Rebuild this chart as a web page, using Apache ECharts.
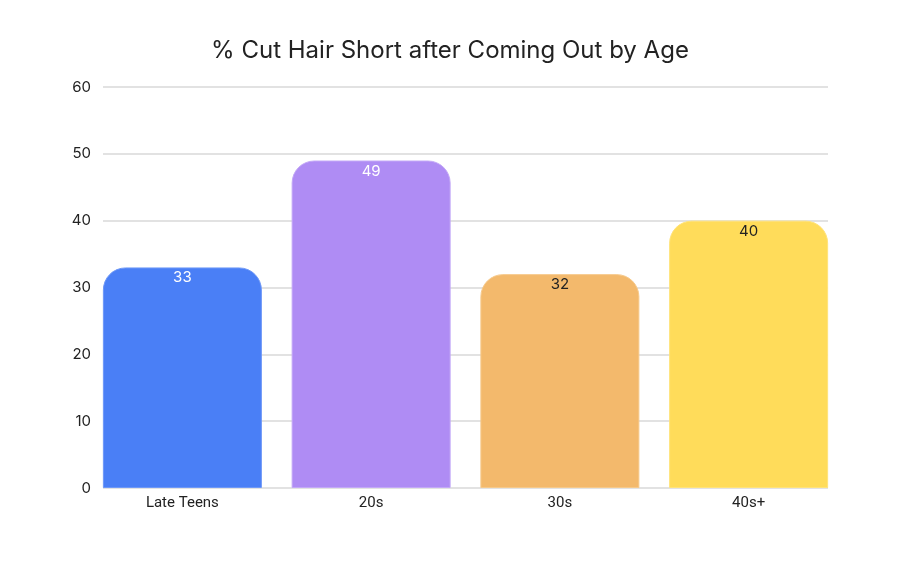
<!DOCTYPE html>
<html>
<head>
<meta charset="utf-8">
<script src="https://cdn.jsdelivr.net/npm/echarts@6/dist/echarts.min.js"></script>
<style>html,body{margin:0;padding:0;background:#fff;}#c{width:900px;height:562px;}</style>
</head>
<body>
<div id="c"></div>
<script>
const categories = ['Late Teens', '20s', '30s', '40s+'];
const values = [33, 49, 32, 40];
const yTicks = [0, 10, 20, 30, 40, 50, 60];

const barColors = ['#4A7FF6', '#AF8CF4', '#F3B96C', '#FFDC5A'];
const borderColors = ['#6E98F7', '#C3A8F7', '#F6C98A', '#FFE37A'];
const labelColors = ['#FFFFFF', '#FFFFFF', '#222222', '#222222'];

const chart = echarts.init(document.getElementById('c'));
const font = 'Inter, "Noto Sans", sans-serif';
chart.setOption({
  animation: false,
  backgroundColor: '#ffffff',
  title: {
    text: '% Cut Hair Short after Coming Out by Age',
    left: 'center',
    top: 34,
    textStyle: { fontFamily: font, fontSize: 24, fontWeight: 'normal', color: '#222222' }
  },
  grid: [
    { left: 103, right: 72, top: 87, bottom: 74 },
    { left: 88, right: 57, top: 87, bottom: 74 }
  ],
  xAxis: [
    { gridIndex: 0, type: 'category', data: categories, show: false },
    {
      gridIndex: 1, type: 'category', data: categories,
      axisLine: { show: false }, axisTick: { show: false },
      axisLabel: { margin: 8, fontFamily: 'Roboto, sans-serif', fontSize: 15, color: '#222222' }
    }
  ],
  yAxis: [
    {
      gridIndex: 0, type: 'value', min: yTicks[0], max: yTicks[yTicks.length - 1], interval: 10,
      axisLine: { show: false }, axisTick: { show: false },
      axisLabel: { margin: 12, fontFamily: font, fontSize: 15, color: '#222222' },
      splitLine: { lineStyle: { color: '#d9d9d9', width: 1.5 } }
    },
    {
      gridIndex: 1, type: 'value', min: yTicks[0], max: yTicks[yTicks.length - 1], interval: 10,
      show: false
    }
  ],
  series: [{
    type: 'bar',
    xAxisIndex: 1,
    yAxisIndex: 1,
    barWidth: 159,
    data: values.map((v, i) => ({
      value: v,
      itemStyle: { color: barColors[i], borderColor: borderColors[i], borderWidth: 1, borderRadius: [22, 22, 0, 0] },
      label: { color: labelColors[i] }
    })),
    label: {
      show: true, position: 'insideTop', distance: 3,
      fontFamily: font, fontSize: 15
    }
  }]
});
</script>
</body>
</html>
